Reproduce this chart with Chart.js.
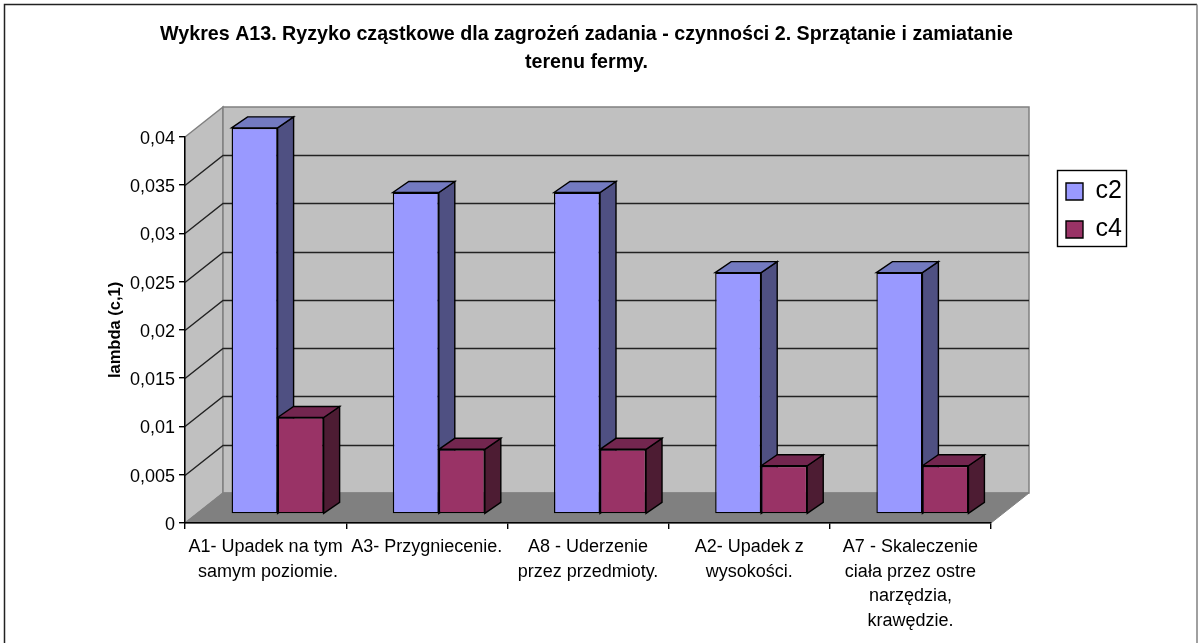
<!DOCTYPE html>
<html><head><meta charset="utf-8">
<style>html,body{margin:0;padding:0;background:#fff}#w{position:relative;width:1198px;height:643px}canvas{display:block}</style>
<script src="https://cdn.jsdelivr.net/npm/chart.js@4"></script></head>
<body><div id="w"><canvas id="c" width="1198" height="643"></canvas></div>
<script>
const titleLines = ['Wykres A13. Ryzyko cząstkowe dla zagrożeń zadania - czynności 2. Sprzątanie i zamiatanie','terenu fermy.'];
const categories = [
  ['A1- Upadek na tym',' samym poziomie.'],
  ['A3- Przygniecenie.'],
  ['A8 - Uderzenie','przez przedmioty.'],
  ['A2- Upadek z','wysokości.'],
  ['A7 - Skaleczenie','ciała przez ostre','narzędzia,','krawędzie.']
];
const c2Values = [0.04, 0.0333, 0.0333, 0.025, 0.025];
const c4Values = [0.01, 0.0067, 0.0067, 0.005, 0.005];
const yTicks = [0,0.005,0.01,0.015,0.02,0.025,0.03,0.035,0.04];
const yTickLabels = ['0','0,005','0,01','0,015','0,02','0,025','0,03','0,035','0,04'];
const yTitle = 'lambda (c,1)';

const WALL=[38,-30], BAR=[12,-9], DEPTH=[16,-11];
function poly(ctx,pts,fill,stroke,lw){ctx.beginPath();pts.forEach((p,i)=>i?ctx.lineTo(p[0],p[1]):ctx.moveTo(p[0],p[1]));ctx.closePath();
  if(fill){ctx.fillStyle=fill;ctx.fill();} if(stroke){ctx.strokeStyle=stroke;ctx.lineWidth=lw||1;ctx.stroke();}}
const shade={
  id:'shade',
  afterLayout(chart){
    const t=chart.titleBlock; t.left=0; t.right=1173;
    const l=chart.legend; l.left=1053; l.top=166; l.right=1126; l.bottom=300; l.width=73; l.height=134;
  },
  beforeDraw(chart){
    const {ctx,scales:{x,y}}=chart, a=chart.chartArea;
    ctx.save();
    ctx.strokeStyle='#222';ctx.lineWidth=1.5;ctx.beginPath();ctx.moveTo(4.5,643);ctx.lineTo(4.5,4.5);ctx.lineTo(1197,4.5);ctx.stroke();
    ctx.strokeStyle='#808080';ctx.beginPath();ctx.moveTo(1197,4.5);ctx.lineTo(1197,643);ctx.stroke();
    const [dx,dy]=WALL, L=Math.round(a.left), R=Math.round(a.right), T=Math.round(a.top), B=Math.round(a.bottom);
    poly(ctx,[[L,T],[L+dx,T+dy],[L+dx,B+dy],[L,B]],'#c0c0c0','#808080',1.5);
    poly(ctx,[[L+dx,T+dy],[R+dx,T+dy],[R+dx,B+dy],[L+dx,B+dy]],'#c0c0c0','#808080',1.5);
    poly(ctx,[[L,B],[R,B],[R+dx,B+dy],[L+dx,B+dy]],'#808080','#808080',1);
    yTicks.forEach(v=>{ if(v===0||v===0.04)return;
      const p=Math.round(y.getPixelForValue(v));
      ctx.strokeStyle='#222';ctx.lineWidth=1.4;ctx.beginPath();ctx.moveTo(L,p+.5);ctx.lineTo(L+dx,p+dy+.5);ctx.lineTo(R+dx,p+dy+.5);ctx.stroke();
    });
    ctx.strokeStyle='#000';ctx.lineWidth=1.4;ctx.strokeRect(1057.5,170.5,69,76);
    ctx.restore();
  },
  beforeDatasetsDraw(chart){
    const ctx=chart.ctx;
    ctx.save();
    ctx.translate(BAR[0],BAR[1]);
    const sides=[['#737ac0','#4f5082'],['#73264f','#4d1c33']];
    const [dx,dy]=DEPTH;
    chart.data.datasets.forEach((ds,i)=>{
      chart.getDatasetMeta(i).data.forEach(b=>{
        const l=b.x-b.width/2,r=b.x+b.width/2,t=b.y,bt=b.base;
        poly(ctx,[[r,t],[r+dx,t+dy],[r+dx,bt+dy],[r,bt]],sides[i][1],'#000',1.4);
        poly(ctx,[[l,t],[l+dx,t+dy],[r+dx,t+dy],[r,t]],sides[i][0],'#000',1.4);
      });
    });
  },
  afterDatasetsDraw(chart){chart.ctx.restore();}
};
new Chart(document.getElementById('c'),{
  type:'bar',
  plugins:[shade],
  data:{labels:categories,datasets:[
    {label:'c2',data:c2Values,backgroundColor:'#9999ff',borderColor:'#000',borderWidth:1.4,borderSkipped:false,clip:false},
    {label:'c4',data:c4Values,backgroundColor:'#993366',borderColor:'#000',borderWidth:1.4,borderSkipped:false,clip:false}
  ]},
  options:{
    responsive:false,animation:false,
    layout:{padding:{left:106,right:207,top:0,bottom:0}},
    font:{family:'"Liberation Sans"'},
    datasets:{bar:{categoryPercentage:0.571,barPercentage:1}},
    plugins:{
      tooltip:{enabled:false},
      title:{display:true,text:titleLines,color:'#000',font:{family:'"Liberation Sans"',size:19.67,weight:'bold',lineHeight:1.42},padding:{top:21,bottom:60}},
      legend:{display:true,position:'chartArea',align:'start',
        labels:{color:'#000',boxWidth:17,boxHeight:17,padding:13,font:{family:'"Liberation Sans"',size:25}}}
    },
    scales:{
      x:{type:'category',offset:true,
        grid:{drawOnChartArea:false,tickLength:6,color:'#000',tickColor:'#000',lineWidth:1.4},
        border:{color:'#000',width:1.4},
        afterFit(s){s.height=120;},
        ticks:{autoSkip:false,maxRotation:0,minRotation:0,padding:6,color:'#000',font:{family:'"Liberation Sans"',size:18,lineHeight:1.36}}},
      y:{min:0,max:0.04,
        grid:{drawOnChartArea:false,tickLength:6,color:'#000',tickColor:'#000',lineWidth:1.4},
        border:{color:'#000',width:1.4},
        afterFit(s){s.width=79;},
        afterBuildTicks(s){s.ticks=yTicks.map(v=>({value:v}));},
        title:{display:true,text:yTitle,color:'#000',padding:{top:0,bottom:0},font:{family:'"Liberation Sans"',size:16.5,weight:'bold'}},
        ticks:{padding:4,labelOffset:2,color:'#000',font:{family:'"Liberation Sans"',size:18},callback:(v,i)=>yTickLabels[i]}}
    }
  }
});
</script></body></html>
